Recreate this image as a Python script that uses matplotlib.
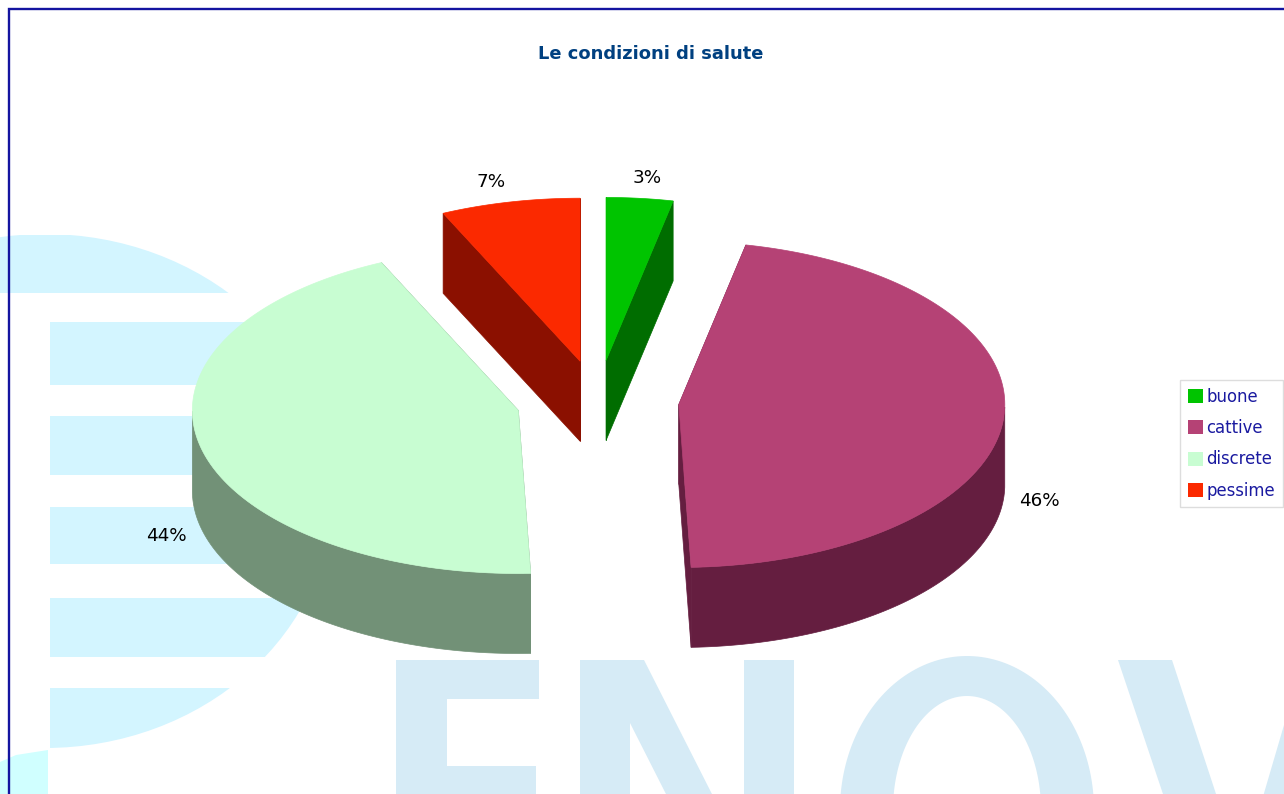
import numpy as np
import matplotlib
matplotlib.use('Agg')
import matplotlib.pyplot as plt
from matplotlib.patches import Ellipse, Polygon, Rectangle, PathPatch, Patch
from matplotlib.path import Path

# dati del grafico
categories = ['buone', 'cattive', 'discrete', 'pessime']
shares = [3.3, 46.1, 43.7, 6.9]
top_colors = ['#00c400', '#b54275', '#c8fdd2', '#fb2900']
side_colors = ['#006d00', '#651e40', '#729177', '#8b1000']

# geometria della torta in pixel
CX, CY = 597.6, 401
RX, RY = 326, 163
DEPTH = 80
EXPLODE = 0.25
LABEL_NUDGE = [(4, 1), (3, 1), (-3, 2), (-12, 1)]

WATER_LOGO = '#d3f5ff'
WATER_TEXT = '#d6ebf6'

fig = plt.figure(figsize=(12.84, 7.94), dpi=100)
ax = fig.add_axes([0, 0, 1, 1])
ax.set_xlim(0, 1284)
ax.set_ylim(794, 0)
ax.axis('off')


def rim(cx, cy, angles):
    # angoli in gradi, in senso orario dalle ore 12
    a = np.radians(angles)
    return np.column_stack([cx + RX * np.sin(a), cy - RY * np.cos(a)])


def draw_watermark():
    # logo a sinistra: strisce tagliate da un'ellisse
    clip = Ellipse((45, 491), 576, 514, transform=ax.transData)
    strips = [(0, 235, 293), (50, 322, 385), (50, 416, 475),
              (50, 507, 564), (50, 598, 657), (50, 688, 748)]
    for x0, y0, y1 in strips:
        r = Rectangle((x0, y0), 400, y1 - y0, color=WATER_LOGO, lw=0, zorder=1)
        ax.add_patch(r)
        r.set_clip_path(clip)
    ax.add_patch(Polygon([(0, 762), (16, 755), (48, 750), (48, 794), (0, 794)],
                         color='#d0ffff', lw=0, zorder=1))

    # lettere ENOV tagliate dal bordo in basso
    letters = [
        [(396, 660), (539, 660), (539, 699), (447, 699), (447, 766), (536, 766),
         (536, 800), (396, 800)],
        [(580, 660), (644, 660), (715, 800), (669, 800), (630, 723),
         (630, 800), (580, 800)],
        [(744, 660), (794, 660), (794, 800), (744, 800)],
        [(1118, 660), (1172, 660), (1218, 800), (1165, 800)],
        [(1284, 725), (1262, 800), (1284, 800)],
    ]
    for pts in letters:
        ax.add_patch(Polygon(pts, color=WATER_TEXT, lw=0, zorder=1))

    # la O come corona ellittica
    t = np.linspace(0, 2 * np.pi, 200)
    outer = np.column_stack([967 + 127 * np.cos(t), 810 + 154 * np.sin(t)])
    inner = np.column_stack([967 + 74 * np.cos(t[::-1]), 810 + 114 * np.sin(t[::-1])])
    verts = np.vstack([outer, inner])
    codes = [Path.MOVETO] + [Path.LINETO] * (len(t) - 1)
    ax.add_patch(PathPatch(Path(verts, codes + codes), color=WATER_TEXT, lw=0, zorder=1))


def draw_slice(start, end, top, side, z):
    mid = (start + end) / 2
    m = np.radians(mid)
    cx = CX + EXPLODE * RX * np.sin(m)
    cy = CY - EXPLODE * RY * np.cos(m)
    angles = np.linspace(start, end, 150)
    arc = rim(cx, cy, angles)
    down = np.array([0, DEPTH])
    apex = np.array([cx, cy])

    # facce di taglio
    for p in (arc[0], arc[-1]):
        ax.add_patch(Polygon([apex, p, p + down, apex + down], color=side, lw=0.5, zorder=z))
    # parete esterna, solo la parte davanti
    front = angles[(angles >= 90) & (angles <= 270)]
    if len(front) > 1:
        wall = rim(cx, cy, front)
        ax.add_patch(Polygon(np.vstack([wall, (wall + down)[::-1]]), color=side, lw=0.5, zorder=z))
    ax.add_patch(Polygon(np.vstack([apex, arc]), color=top, lw=0.5, zorder=z + 0.5))
    return cx, cy, m


draw_watermark()

# fette, dalle ore 12 in senso orario
edges = np.concatenate([[0], np.cumsum(shares)]) * 3.6
edges[-1] = 360
order = [0, 3, 1, 2]
centers = {}
for i in order:
    centers[i] = draw_slice(edges[i], edges[i + 1], top_colors[i], side_colors[i], 3 + order.index(i))

# etichette percentuali
for i, share in enumerate(shares):
    cx, cy, m = centers[i]
    lx = cx + RX * np.sin(m) * 1.1 + LABEL_NUDGE[i][0]
    ly = cy - RY * np.cos(m) * 1.13 + LABEL_NUDGE[i][1]
    if np.cos(m) < 0:
        ly += DEPTH
    ax.text(lx, ly, f'{round(share)}%', fontsize=13.2, color='black',
            ha='center', va='center', zorder=10, family='DejaVu Sans')

ax.text(651, 54, 'Le condizioni di salute', fontsize=12.9, fontweight='bold', color='#004080',
        ha='center', va='center', family='DejaVu Sans', zorder=10)

# cornice blu in alto e a sinistra
ax.plot([9.3, 9.3, 1284], [794, 9.3, 9.3], color='#1414a0', lw=1.7, zorder=11,
        solid_joinstyle='miter')

handles = [Patch(facecolor=c, edgecolor='none', label=n) for c, n in zip(top_colors, categories)]
leg = ax.legend(handles=handles, loc='upper left', bbox_to_anchor=(1180, 380),
                bbox_transform=ax.transData, borderaxespad=0,
                labelcolor='#1a1aa0', frameon=True, fancybox=False, edgecolor='#dddddd',
                framealpha=1, handlelength=0.92, handleheight=0.92, handletextpad=0.22,
                labelspacing=0.81, borderpad=0.46, prop={'family': 'DejaVu Sans', 'size': 11.9})
leg.set_zorder(12)

fig.savefig('out.png', dpi=100)
